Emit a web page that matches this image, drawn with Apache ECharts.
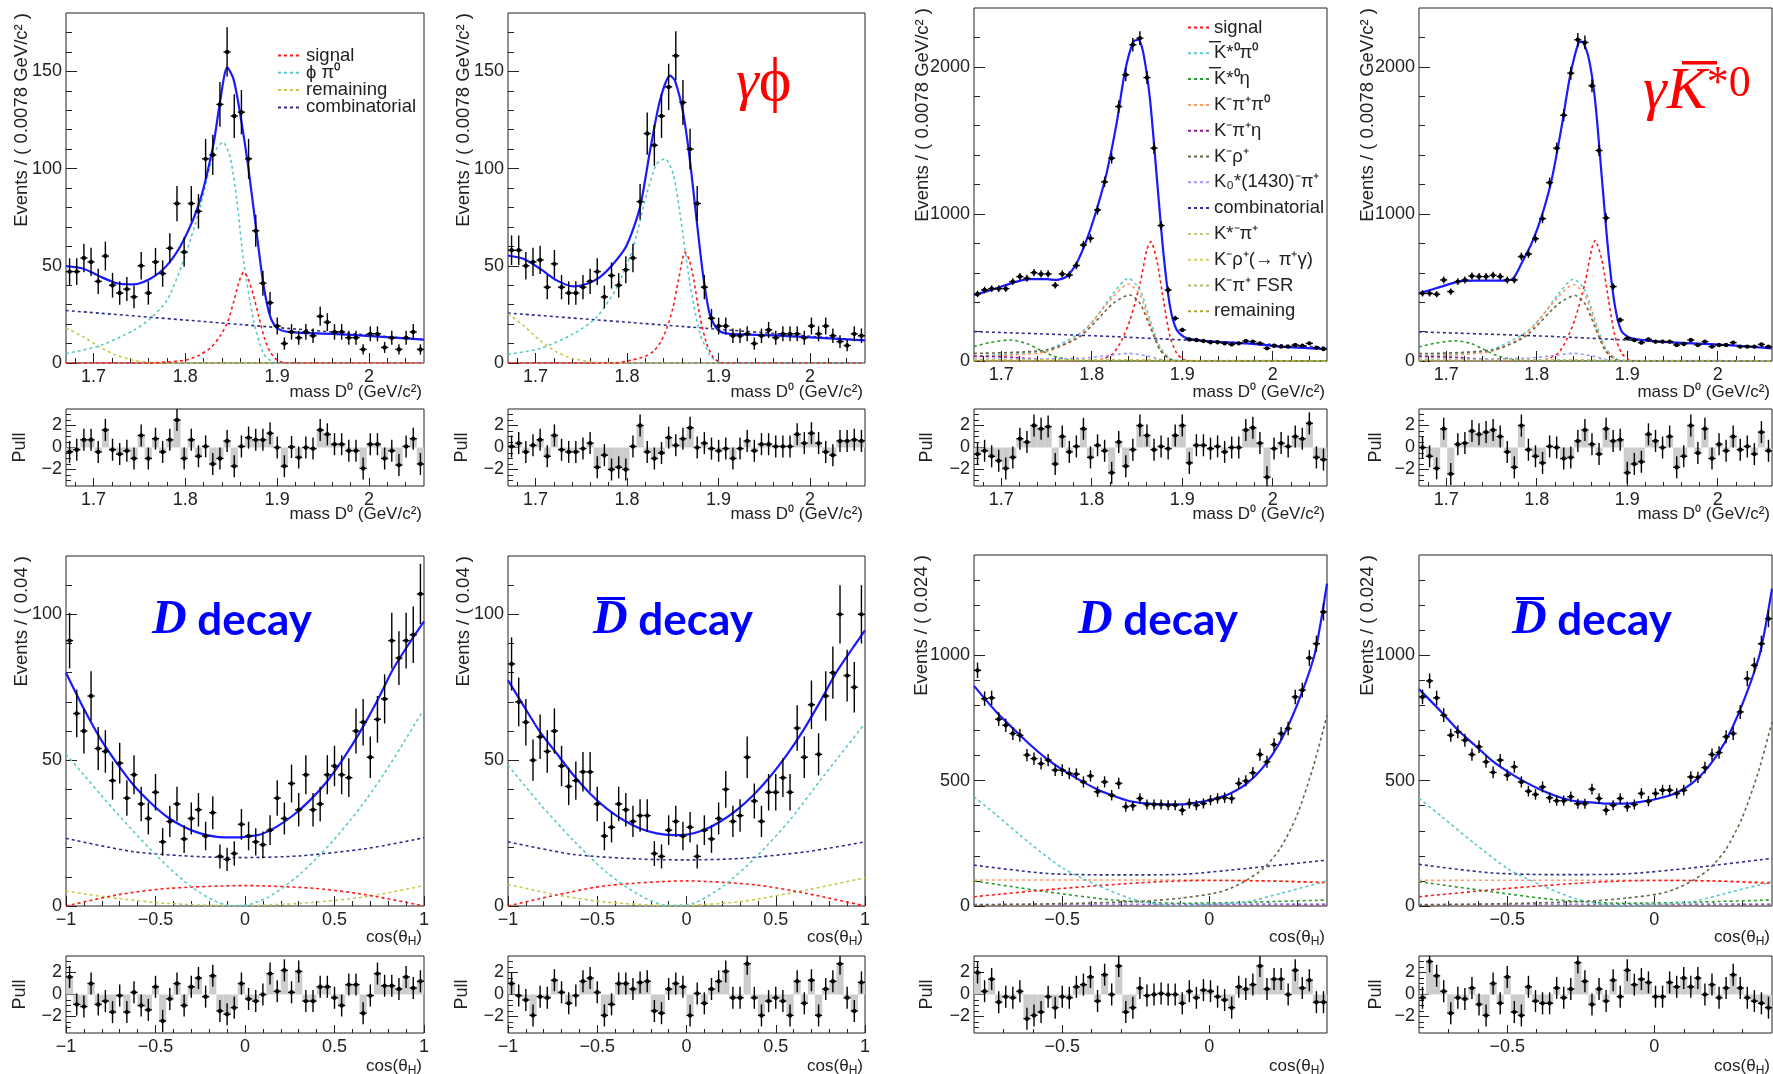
<!DOCTYPE html>
<html><head><meta charset="utf-8">
<script src="https://cdn.jsdelivr.net/npm/echarts@6/dist/echarts.min.js"></script>
<style>html,body{margin:0;padding:0;background:#fff}#c{width:1773px;height:1074px}</style>
</head><body><div id="c"></div>
<script>
// ---------------- DATA ----------------
const massBins = {lo:1.67, w:0.0078};
const cosPhiBins = {lo:-1, w:0.04};
const cosKstBins = {lo:-0.8, w:0.024};

const massTicks = [1.7,1.8,1.9,2.0];
const massMinorTicks = [1.68,1.72,1.74,1.76,1.78,1.82,1.84,1.86,1.88,1.92,1.94,1.96,1.98,2.02,2.04];
const cosPhiTicks = [-1,-0.5,0,0.5,1];
const cosPhiMinorTicks = [-0.9,-0.8,-0.7,-0.6,-0.4,-0.3,-0.2,-0.1,0.1,0.2,0.3,0.4,0.6,0.7,0.8,0.9];
const cosKstTicks = [-0.5,0];
const cosKstMinorTicks = [-0.7,-0.6,-0.4,-0.3,-0.2,-0.1,0.1,0.2,0.3];
const phiMassYTicks = [0,50,100,150];
const phiMassYMinor = [10,20,30,40,60,70,80,90,110,120,130,140,160,170];
const kstMassYTicks = [0,1000,2000];
const kstMassYMinor = [200,400,600,800,1200,1400,1600,1800,2200];
const phiHelYTicks = [0,50,100];
const phiHelYMinor = [10,20,30,40,60,70,80,90,110];
const kstHelYTicks = [0,500,1000];
const kstHelYMinor = [100,200,300,400,600,700,800,900,1100,1200,1300];
const pullYTicks = [-2,0,2];
const pullYMinor = [-3,-2.5,-1.5,-1,-0.5,0.5,1,1.5,2.5,3];

// event counts per bin (50 bins each)
const massPhiA = [47,47,54,52,42,55,40,36,38,34, 50,36,52,46,59,82,57,82,78,105, 107,133,160,127,129,105,68,41,31,19, 10,16,13,16,14,24,21,16,16,13, 13,7,15,15,8,13,7,13,16,7];
const massPhiB = [58,58,50,52,53,39,51,39,36,36, 39,42,47,34,45,40,48,54,83,118, 112,127,142,158,134,110,82,39,23,19, 19,14,14,15,10,14,17,13,15,15, 15,13,19,15,19,14,11,9,15,14];
const massKstA = [456,483,492,492,492,540,574,562,601,592, 592,515,592,585,649,789,834,1027,1218,1379, 1730,1946,2150,2195,1927,1447,921,483,290,211, 147,143,136,127,127,120,113,120,136,132, 120,86,104,98,98,109,104,120,91,82];
const massKstB = [460,460,454,551,472,540,551,578,574,574, 583,574,551,551,710,728,832,968,1213,1447, 1671,1957,2184,2166,1871,1431,973,506,279,154, 143,125,147,132,132,132,109,116,143,109, 132,98,109,109,125,98,98,98,113,98];
const helPhiD = [91,66,60,72,54,53,43,49,37,45, 35,30,39,22,29,35,23,30,33,24, 32,17,16,18,28,24,22,21,26,37, 30,42,33,45,33,35,45,48,45,44, 60,63,51,64,71,91,85,91,93,107];
const helPhiDbar = [83,70,63,50,58,53,60,48,41,43, 46,46,35,24,27,35,33,29,31,31, 18,17,26,29,24,27,17,26,23,30, 40,29,31,51,36,29,39,39,44,39, 61,51,69,52,72,80,100,79,75,100];
const helKstD = [940,827,830,745,721,688,681,602,588,568, 582,542,542,529,526,495,519,456,495,442, 489,396,400,429,405,405,405,402,402,382, 409,402,409,422,429,432,429,489,499,531, 604,575,644,688,708,834,861,989,1046,1173];
const helKstDbar = [834,898,830,761,681,695,661,604,635,575, 533,582,522,555,495,458,445,475,432,420, 420,436,408,408,466,429,382,402,429,396, 405,449,418,449,462,462,449,462,515,513, 552,604,612,675,688,774,907,960,1046,1146];

// pulls per bin
const pullMassPhiA = [-0.4,-0.2,0.7,0.7,-0.4,1.6,-0.2,-0.6,-0.3,-1.0, 1.1,-1.0,0.8,-0.4,0.7,2.5,-1.0,0.7,-0.8,0.1, -1.5,-1.0,0.6,-1.7,0.1,0.9,0.7,0.7,1.3,0.0, -1.7,0.05,-0.9,0.0,-0.1,1.6,1.2,0.3,0.3,-0.3, -0.3,-1.9,0.3,0.3,-1.0,-0.3,-1.6,0.1,0.8,-1.5];
const pullMassPhiB = [0.1,0.4,-0.4,0.2,0.7,-0.8,1.1,-0.2,-0.4,-0.4, -0.1,0.4,-1.8,-0.7,-2.0,-1.8,-2.0,0.1,2.0,-0.4, -1.0,-0.5,0.9,0.2,0.8,1.8,0.0,0.4,-0.1,-0.3, -0.1,-1.0,-0.1,0.6,-0.3,0.3,0.3,0.1,0.1,0.1, 1.2,0.4,1.3,0.4,-0.4,-0.7,0.6,0.6,0.7,0.6];
const pullMassKstA = [-0.6,-0.3,-0.8,-1.2,-1.9,-0.9,0.8,0.5,2.0,1.7, 1.9,-1.5,1.0,-0.4,0.1,1.7,-0.9,0.2,-0.3,-2.3, 0.5,-1.7,-0.2,2.0,1.1,-0.2,0.1,-0.1,1.1,2.0, -1.4,0.2,0.2,-0.1,0.1,-0.4,0.0,0.0,1.6,1.8, 0.4,-2.7,-0.1,0.4,0.1,1.0,0.8,2.2,-0.9,-1.1];
const pullMassKstB = [0.0,-0.8,-1.9,1.7,-2.4,0.3,0.4,1.5,1.2,1.4, 1.6,1.0,-0.4,-1.8,2.0,-0.2,-0.8,-1.4,0.1,0.0, -1.0,-0.9,0.6,1.6,0.3,-0.6,1.7,0.6,0.7,-2.3, -1.5,-1.3,1.2,0.6,0.0,1.0,-1.8,-0.8,2.0,-0.5, 1.7,-1.0,0.3,-0.3,1.0,-0.2,0.1,-0.6,1.4,-0.3];
const pullHelPhiD = [1.6,-0.9,-1.1,1.0,-0.9,-0.6,-1.6,-0.1,-1.6,0.2, -1.0,-1.4,0.7,-2.4,-0.4,1.0,-1.0,0.7,1.5,-0.2, 1.7,-1.5,-1.8,-1.2,1.0,-0.4,-0.6,0.0,1.9,0.3, 2.2,0.2,2.1,-0.6,-0.6,0.7,0.7,-0.3,-1.0,0.9, 0.9,-1.7,-0.1,1.9,0.8,0.8,0.5,1.6,0.6,1.2];
const pullHelPhiDbar = [1.0,-0.1,-0.5,-1.9,-0.2,-0.3,1.3,0.2,-0.8,-0.1, 1.2,1.5,0.2,-1.9,-0.9,1.0,1.0,0.5,1.1,1.2, -1.5,-1.7,0.5,1.0,0.7,-1.9,0.1,-0.8,0.5,1.2, 2.1,-0.3,-0.3,2.8,-0.3,-1.9,-0.6,-0.3,-0.6,-1.9, 1.2,-0.8,1.3,-1.9,0.5,1.2,2.8,-0.3,-1.5,1.1];
const pullHelKstD = [2.0,0.3,1.4,-0.7,-0.2,-0.3,0.3,-2.2,-1.9,-1.6, -0.2,-1.2,-0.2,-0.3,0.7,0.9,1.6,-0.6,1.8,0.0, 2.6,-1.6,-1.2,0.6,-0.1,0.0,0.1,0.0,0.0,-0.8, 0.3,-0.3,0.4,0.3,-0.2,-0.5,-1.2,0.7,0.5,0.9, 2.6,0.5,1.4,1.4,0.0,2.2,0.6,1.3,-0.7,-0.7];
const pullHelKstDbar = [-0.3,3.0,1.7,0.3,-1.7,-0.3,-0.4,0.6,-0.9,-1.9, 1.0,-0.8,1.6,-1.6,-1.9,0.7,-0.6,-0.8,-0.8,0.6, -0.3,0.5,2.9,1.2,-0.9,0.5,-0.6,1.3,-0.2,2.2, 0.9,1.4,1.1,-0.2,-0.2,1.1,0.7,1.5,0.7,1.5, 0.0,0.9,-0.3,0.6,1.8,0.6,-0.3,-0.6,-0.8,-1.2];

// fit curves [x, y]
const fitMassPhiA = [[1.67,49.8],[1.689,48.5],[1.707,44.5],[1.7255,41],[1.7437,40.4],[1.7618,43.3],[1.78,50.2],[1.798,63],[1.816,83.6],[1.8307,112.7],[1.838,135],[1.8456,152],[1.8525,146],[1.8598,128],[1.8688,100],[1.8779,66],[1.8852,40],[1.8924,24],[1.8997,18],[1.9142,15.9],[1.9614,15],[2.06,12]];
const sigMassPhiA = [[1.67,0],[1.76,0],[1.78,0.5],[1.8,1.5],[1.815,4],[1.828,8],[1.838,14],[1.846,21],[1.853,32],[1.858,41],[1.8635,46.7],[1.868,44],[1.874,35],[1.88,24],[1.886,13],[1.892,6],[1.9,1.5],[1.91,0],[2.06,0]];
const phipiMassPhiA = [[1.67,4.8],[1.7074,9],[1.7437,16.8],[1.7618,22.8],[1.78,32.2],[1.798,52.7],[1.8162,80],[1.8307,107.5],[1.8409,113.5],[1.8489,105.8],[1.8561,83.6],[1.8634,52.7],[1.8743,22],[1.8852,4.8],[1.896,0.5],[1.91,0],[2.06,0]];
const remMassPhiA = [[1.67,18],[1.689,13.4],[1.707,8.2],[1.7255,3.9],[1.7437,1.4],[1.7618,0.2],[1.78,0],[2.06,0]];
const combMassPhiA = [[1.67,27],[1.86,19.8],[2.06,12]];

const fitMassPhiB = [[1.67,55.3],[1.6868,53.6],[1.705,48.5],[1.7232,42.5],[1.7414,39.4],[1.756,40.8],[1.7705,44.2],[1.7851,51],[1.7996,60.4],[1.8142,80.1],[1.8251,109],[1.836,135],[1.847,147.8],[1.8524,145.2],[1.8616,128],[1.8688,104],[1.8761,73.3],[1.8834,44.2],[1.8907,24.5],[1.8998,16.8],[1.9125,15],[1.9599,14.2],[2.06,11.6]];
const sigMassPhiB = [[1.67,0],[1.785,0],[1.805,1.5],[1.82,3.5],[1.829,6],[1.837,11],[1.8433,17.6],[1.85,28],[1.856,42],[1.8634,57],[1.868,53],[1.8725,44],[1.8798,23.6],[1.887,10],[1.895,2.5],[1.905,0],[2.06,0]];
const phipiMassPhiB = [[1.67,4.5],[1.705,7.4],[1.7414,15],[1.767,23.6],[1.789,39],[1.8069,59.6],[1.8215,87],[1.8324,102.4],[1.8415,105],[1.8506,97],[1.8579,76.7],[1.8688,40.8],[1.8798,15],[1.8907,4],[1.898,1],[1.91,0],[2.06,0]];
const remMassPhiB = [[1.67,25.3],[1.6868,19.3],[1.705,11.6],[1.7232,5.6],[1.7414,2.2],[1.767,0.3],[1.78,0],[2.06,0]];
const combMassPhiB = [[1.67,25.7],[1.86,18.8],[2.06,11.6]];

const fitMassKstA = [[1.67,449],[1.6947,494],[1.7132,533],[1.7316,556],[1.7501,556],[1.7611,551],[1.7722,574],[1.7833,664],[1.7944,823],[1.8054,1027],[1.8165,1277],[1.8276,1617],[1.8368,1968],[1.8461,2172],[1.8516,2184],[1.8571,2093],[1.8645,1776],[1.8719,1254],[1.8793,732],[1.8866,370],[1.894,211],[1.9051,154],[1.9346,132],[1.9715,120],[2.0084,98],[2.06,82]];
const sigMassKstA = [[1.67,0],[1.79,0],[1.8017,3],[1.8128,15],[1.8239,52],[1.8331,140],[1.8424,279],[1.8535,528],[1.8609,755],[1.8652,812],[1.8719,687],[1.8793,415],[1.8866,166],[1.894,52],[1.9014,11],[1.91,0],[2.06,0]];
const kpi0MassKstA = [[1.67,34],[1.7132,48],[1.7501,75],[1.787,188],[1.8054,302],[1.8239,460],[1.8405,562],[1.8534,483],[1.8645,279],[1.8755,98],[1.8866,18],[1.8977,2],[1.91,0],[2.06,0]];
const ketaMassKstA = [[1.67,98],[1.6873,125],[1.7095,143],[1.7279,120],[1.7427,75],[1.7575,34],[1.7722,11],[1.787,2],[1.8,0],[2.06,0]];
const kpipi0MassKstA = [[1.67,29],[1.7501,63],[1.787,177],[1.8239,438],[1.8405,524],[1.8534,449],[1.8645,256],[1.8755,86],[1.8866,14],[1.8977,0],[2.06,0]];
const kpietaMassKstA = [[1.67,34],[1.7132,25],[1.7501,7],[1.7686,0],[2.06,0]];
const krhoMassKstA = [[1.67,52],[1.7501,75],[1.787,166],[1.8239,392],[1.8424,449],[1.8534,392],[1.8645,234],[1.8755,75],[1.8866,11],[1.8977,0],[2.06,0]];
const k0MassKstA = [[1.67,11],[1.787,18],[1.8239,41],[1.8405,52],[1.8609,34],[1.8793,7],[1.895,0],[2.06,0]];
const combMassKstA = [[1.67,200],[1.8239,166],[2.06,93]];
const kstpiMassKstA = [[1.67,8],[1.8,6],[1.9,3],[2.06,2]];
const krhogMassKstA = [[1.67,5],[1.84,8],[1.9,2],[2.06,1]];
const fsrMassKstA = [[1.67,3],[1.83,5],[1.88,2],[2.06,0]];
const remMassKstA = [[1.67,2],[2.06,1]];

const fitMassKstB = [[1.67,460],[1.6947,506],[1.7132,540],[1.7316,546],[1.7501,546],[1.7649,546],[1.7741,562],[1.7833,664],[1.7944,800],[1.8054,982],[1.8165,1231],[1.8276,1594],[1.8368,1934],[1.8461,2161],[1.8498,2172],[1.8571,2070],[1.8645,1776],[1.8719,1254],[1.8793,732],[1.8866,370],[1.894,200],[1.9051,154],[1.9346,132],[1.9715,120],[2.0084,109],[2.06,86]];
const sigMassKstB = [[1.67,0],[1.79,0],[1.8017,3],[1.8128,15],[1.8239,55],[1.8331,145],[1.8424,285],[1.8535,535],[1.8609,765],[1.8645,819],[1.8719,690],[1.8793,418],[1.8866,168],[1.894,52],[1.9014,11],[1.91,0],[2.06,0]];
const kpi0MassKstB = [[1.67,36],[1.7132,50],[1.7501,78],[1.787,190],[1.8054,300],[1.8239,455],[1.8405,556],[1.8534,480],[1.8645,276],[1.8755,96],[1.8866,18],[1.8977,2],[1.91,0],[2.06,0]];
const ketaMassKstB = [[1.67,95],[1.6873,120],[1.7095,138],[1.7279,118],[1.7427,75],[1.7575,34],[1.7722,11],[1.787,2],[1.8,0],[2.06,0]];
const kpipi0MassKstB = [[1.67,30],[1.7501,65],[1.787,178],[1.8239,435],[1.8405,520],[1.8534,445],[1.8645,252],[1.8755,85],[1.8866,14],[1.8977,0],[2.06,0]];
const kpietaMassKstB = [[1.67,32],[1.7132,24],[1.7501,7],[1.7686,0],[2.06,0]];
const krhoMassKstB = [[1.67,50],[1.7501,74],[1.787,165],[1.8239,388],[1.8424,445],[1.8534,388],[1.8645,230],[1.8755,74],[1.8866,11],[1.8977,0],[2.06,0]];
const k0MassKstB = [[1.67,11],[1.787,18],[1.8239,41],[1.8405,52],[1.8609,34],[1.8793,7],[1.895,0],[2.06,0]];
const combMassKstB = [[1.67,198],[1.8239,165],[2.06,92]];
const kstpiMassKstB = [[1.67,8],[1.8,6],[1.9,3],[2.06,2]];
const krhogMassKstB = [[1.67,5],[1.84,8],[1.9,2],[2.06,1]];
const fsrMassKstB = [[1.67,3],[1.83,5],[1.88,2],[2.06,0]];
const remMassKstB = [[1.67,2],[2.06,1]];

const fitHelPhiD = [[-1,80],[-0.901,67.7],[-0.808,57.4],[-0.715,48.9],[-0.622,41.4],[-0.529,35.5],[-0.436,30.6],[-0.343,27.2],[-0.25,24.9],[-0.157,23.7],[-0.064,23.5],[0.0,23.7],[0.085,24.5],[0.178,27.2],[0.271,31.2],[0.364,36.3],[0.457,42.6],[0.55,50.6],[0.643,59.7],[0.736,70],[0.829,81.4],[0.922,90.5],[1.0,97.6]];
const phipiHelPhiD = [[-1,52],[-0.901,45],[-0.808,38.3],[-0.715,31.8],[-0.622,25.5],[-0.529,19.5],[-0.436,13.8],[-0.343,8.7],[-0.25,4.5],[-0.157,1.4],[-0.064,0],[0.029,0.6],[0.122,2.8],[0.215,6.4],[0.308,11],[0.401,16.4],[0.494,22.5],[0.587,29.3],[0.68,36.8],[0.773,45],[0.866,54],[1,67.5]];
const combHelPhiD = [[-1,23.2],[-0.622,18.6],[-0.25,16.9],[0,16.6],[0.308,17.2],[0.68,19.7],[1,23.4]];
const sigHelPhiD = [[-1,0],[-0.715,3.8],[-0.436,6],[0,7],[0.401,6],[0.68,3.8],[1,0]];
const remHelPhiD = [[-1,5.1],[-0.715,2.6],[-0.436,0.9],[-0.064,0.1],[0.308,0.9],[0.68,3.2],[1,7]];

const fitHelPhiDbar = [[-1,77.4],[-0.914,68.8],[-0.821,59.7],[-0.727,52.3],[-0.634,44.9],[-0.541,38.6],[-0.447,33.4],[-0.354,29.5],[-0.26,26.6],[-0.167,24.9],[-0.074,24.3],[0.001,24.5],[0.094,26],[0.188,28.9],[0.281,32.9],[0.374,38],[0.468,44.3],[0.561,51.7],[0.655,60.3],[0.748,70],[0.841,80.3],[0.935,88.8],[1,94.5]];
const phipiHelPhiDbar = [[-1,48.3],[-0.821,35],[-0.634,22.5],[-0.447,11.5],[-0.26,3.6],[-0.111,0.2],[0.038,0.9],[0.206,6.8],[0.393,17],[0.58,29.5],[0.767,44.5],[1,62.6]];
const combHelPhiDbar = [[-1,22],[-0.634,17.7],[-0.26,16.1],[0.001,15.8],[0.3,16.3],[0.673,18.6],[1,22]];
const sigHelPhiDbar = [[-1,0],[-0.727,3.8],[-0.447,7],[0.001,8.6],[0.393,7.2],[0.673,4.3],[1,0]];
const remHelPhiDbar = [[-1,7.4],[-0.727,3.8],[-0.447,1.3],[-0.074,0.1],[0.3,1.5],[0.673,5.5],[1,9.7]];

const fitHelKstD = [[-0.8,878],[-0.724,774],[-0.667,708],[-0.61,644],[-0.554,588],[-0.497,542],[-0.44,502],[-0.383,466],[-0.327,440],[-0.27,418],[-0.213,409],[-0.156,405],[-0.1,405],[-0.043,413],[0.014,426],[0.071,449],[0.128,489],[0.184,555],[0.241,655],[0.298,801],[0.355,990],[0.377,1120],[0.4,1286]];
const kpi0HelKstD = [[-0.8,436],[-0.724,363],[-0.61,250],[-0.497,150],[-0.383,84],[-0.27,31],[-0.179,7],[-0.1,1],[0.014,7],[0.128,17],[0.241,50],[0.4,100]];
const combHelKstD = [[-0.8,163],[-0.554,130],[-0.327,124],[-0.1,126],[0.128,150],[0.4,183]];
const sigHelKstD = [[-0.8,37],[-0.5,70],[-0.2,95],[0,102],[0.2,100],[0.4,93]];
const kpipi0HelKstD = [[-0.8,104],[-0.4,104],[0,103],[0.2,100],[0.4,95]];
const ketaHelKstD = [[-0.8,100],[-0.554,57],[-0.327,24],[-0.1,11],[0.128,15],[0.4,24]];
const krhoHelKstD = [[-0.8,4],[-0.44,11],[-0.213,20],[-0.1,31],[0.014,50],[0.071,70],[0.128,104],[0.184,150],[0.241,230],[0.298,362],[0.355,562],[0.4,761]];
const k0HelKstD = [[-0.8,7],[0,8],[0.4,9]];
const kpietaHelKstD = [[-0.8,5],[0.4,5]];
const kstpiHelKstD = [[-0.8,3],[0.4,4]];
const remHelKstD = [[-0.8,4],[0.4,6]];

const fitHelKstDbar = [[-0.8,865],[-0.724,774],[-0.667,701],[-0.61,641],[-0.554,582],[-0.497,535],[-0.44,495],[-0.383,462],[-0.327,436],[-0.27,418],[-0.213,413],[-0.156,408],[-0.1,408],[-0.043,416],[0.014,429],[0.071,449],[0.128,489],[0.184,555],[0.241,655],[0.298,801],[0.355,990],[0.377,1110],[0.4,1266]];
const kpi0HelKstDbar = [[-0.8,429],[-0.724,358],[-0.61,248],[-0.497,148],[-0.383,82],[-0.27,30],[-0.179,7],[-0.1,1],[0.014,7],[0.128,17],[0.241,50],[0.4,97]];
const combHelKstDbar = [[-0.8,166],[-0.554,132],[-0.327,125],[-0.1,128],[0.128,152],[0.4,190]];
const sigHelKstDbar = [[-0.8,37],[-0.5,70],[-0.2,95],[0,102],[0.2,100],[0.4,90]];
const kpipi0HelKstDbar = [[-0.8,102],[-0.4,103],[0,103],[0.2,100],[0.4,95]];
const ketaHelKstDbar = [[-0.8,97],[-0.554,57],[-0.327,24],[-0.1,11],[0.128,15],[0.4,24]];
const krhoHelKstDbar = [[-0.8,4],[-0.44,11],[-0.213,20],[-0.1,31],[0.014,48],[0.071,68],[0.128,100],[0.184,145],[0.241,222],[0.298,350],[0.355,540],[0.4,734]];
const k0HelKstDbar = [[-0.8,7],[0,8],[0.4,9]];
const kpietaHelKstDbar = [[-0.8,5],[0.4,5]];
const kstpiHelKstDbar = [[-0.8,3],[0.4,4]];
const remHelKstDbar = [[-0.8,4],[0.4,6]];

const legendPhiNames = ['signal','\u03d5 \u03c0\u2070','remaining','combinatorial'];
const legendKstNames = ['signal','K*\u2070\u03c0\u2070','K*\u2070\u03b7','K\u207b\u03c0\u207a\u03c0\u2070','K\u207b\u03c0\u207a\u03b7','K\u207b\u03c1\u207a','K\u2080*(1430)\u207b\u03c0\u207a','combinatorial ','K*\u207b\u03c0\u207a','K\u207b\u03c1\u207a(\u2192 \u03c0\u207a\u03b3)','K\u207b\u03c0\u207a FSR','remaining '];

// ---------------- STYLE / LAYOUT ----------------
const FONT = '"Liberation Sans", Arial, Helvetica, sans-serif';
const C = {sig:'#ff1a1a', cyan:'#5cc8c8', olive:'#c8c850', navy:'#2e2e8a', green:'#2f9a2f', orange:'#ff9966',
  purple:'#8b1a8b', krho:'#666648', k0:'#9a9aff', kst:'#c8c878', krg:'#d0d060', fsr:'#b8b870', rem:'#a8a830', fit:'#1a1aff'};
const yTitleMass = 'Events / ( 0.0078 GeV/c\u00b2 )';
const xTitleMass = 'mass D\u2070 (GeV/c\u00b2)';

const kstComps = (s) => [
  [s.sig,C.sig],[s.kpi0,C.cyan],[s.keta,C.green],[s.kpipi0,C.orange],[s.kpieta,C.purple],[s.krho,C.krho],
  [s.k0,C.k0],[s.comb,C.navy],[s.kstpi,C.kst],[s.krhog,C.krg],[s.fsr,C.fsr],[s.rem,C.rem]];

const PANELS = [
 {rect:[66,13,358,350], pull:[66,409,358,77], xr:[1.67,2.06], yr:[0,180], xT:massTicks, xMi:massMinorTicks, yT:phiMassYTicks, yMi:phiMassYMinor,
  bins:massBins, data:massPhiA, pulls:pullMassPhiA, fit:fitMassPhiA,
  comps:[[combMassPhiA,C.navy,'combinatorial'],[remMassPhiA,C.olive,'remaining'],[phipiMassPhiA,C.cyan,legendPhiNames[1]],[sigMassPhiA,C.sig,'signal']],
  yTitle:yTitleMass, xTitle:'mass', ytx:22, ptx:20},
 {rect:[508,13,357,350], pull:[508,409,357,77], xr:[1.67,2.06], yr:[0,180], xT:massTicks, xMi:massMinorTicks, yT:phiMassYTicks, yMi:phiMassYMinor,
  bins:massBins, data:massPhiB, pulls:pullMassPhiB, fit:fitMassPhiB,
  comps:[[combMassPhiB,C.navy],[remMassPhiB,C.olive],[phipiMassPhiB,C.cyan],[sigMassPhiB,C.sig]],
  yTitle:yTitleMass, xTitle:'mass', ytx:464, ptx:462},
 {rect:[974,8,353,353], pull:[974,409,353,77], xr:[1.67,2.06], yr:[0,2400], xT:massTicks, xMi:massMinorTicks, yT:kstMassYTicks, yMi:kstMassYMinor,
  bins:massBins, data:massKstA, pulls:pullMassKstA, fit:fitMassKstA,
  comps:kstComps({sig:sigMassKstA,kpi0:kpi0MassKstA,keta:ketaMassKstA,kpipi0:kpipi0MassKstA,kpieta:kpietaMassKstA,krho:krhoMassKstA,k0:k0MassKstA,comb:combMassKstA,kstpi:kstpiMassKstA,krhog:krhogMassKstA,fsr:fsrMassKstA,rem:remMassKstA}).map((c,i)=>[c[0],c[1],legendKstNames[i]]),
  yTitle:yTitleMass, xTitle:'mass', ytx:923, ptx:927},
 {rect:[1419,8,353,353], pull:[1419,409,353,77], xr:[1.67,2.06], yr:[0,2400], xT:massTicks, xMi:massMinorTicks, yT:kstMassYTicks, yMi:kstMassYMinor,
  bins:massBins, data:massKstB, pulls:pullMassKstB, fit:fitMassKstB,
  comps:kstComps({sig:sigMassKstB,kpi0:kpi0MassKstB,keta:ketaMassKstB,kpipi0:kpipi0MassKstB,kpieta:kpietaMassKstB,krho:krhoMassKstB,k0:k0MassKstB,comb:combMassKstB,kstpi:kstpiMassKstB,krhog:krhogMassKstB,fsr:fsrMassKstB,rem:remMassKstB}),
  yTitle:yTitleMass, xTitle:'mass', ytx:1368, ptx:1376},
 {rect:[66,556,358,350], pull:[66,956,358,77], xr:[-1,1], yr:[0,120], xT:cosPhiTicks, xMi:cosPhiMinorTicks, yT:phiHelYTicks, yMi:phiHelYMinor,
  bins:cosPhiBins, data:helPhiD, pulls:pullHelPhiD, fit:fitHelPhiD,
  comps:[[remHelPhiD,C.olive],[sigHelPhiD,C.sig],[combHelPhiD,C.navy],[phipiHelPhiD,C.cyan]],
  yTitle:'Events / ( 0.04 )', xTitle:'cos', ytx:22, ptx:20},
 {rect:[508,556,357,350], pull:[508,956,357,77], xr:[-1,1], yr:[0,120], xT:cosPhiTicks, xMi:cosPhiMinorTicks, yT:phiHelYTicks, yMi:phiHelYMinor,
  bins:cosPhiBins, data:helPhiDbar, pulls:pullHelPhiDbar, fit:fitHelPhiDbar,
  comps:[[remHelPhiDbar,C.olive],[sigHelPhiDbar,C.sig],[combHelPhiDbar,C.navy],[phipiHelPhiDbar,C.cyan]],
  yTitle:'Events / ( 0.04 )', xTitle:'cos', ytx:464, ptx:462},
 {rect:[974,555,353,351], pull:[974,956,353,77], xr:[-0.8,0.4], yr:[0,1400], xT:cosKstTicks, xMi:cosKstMinorTicks, yT:kstHelYTicks, yMi:kstHelYMinor,
  bins:cosKstBins, data:helKstD, pulls:pullHelKstD, fit:fitHelKstD,
  comps:[[remHelKstD,C.rem],[kstpiHelKstD,C.kst],[kpietaHelKstD,C.purple],[k0HelKstD,C.k0],[ketaHelKstD,C.green],[kpipi0HelKstD,C.orange],[sigHelKstD,C.sig],[combHelKstD,C.navy],[kpi0HelKstD,C.cyan],[krhoHelKstD,C.krho]],
  yTitle:'Events / ( 0.024 )', xTitle:'cos', ytx:922, ptx:927},
 {rect:[1419,555,353,351], pull:[1419,956,353,77], xr:[-0.8,0.4], yr:[0,1400], xT:cosKstTicks, xMi:cosKstMinorTicks, yT:kstHelYTicks, yMi:kstHelYMinor,
  bins:cosKstBins, data:helKstDbar, pulls:pullHelKstDbar, fit:fitHelKstDbar,
  comps:[[remHelKstDbar,C.rem],[kstpiHelKstDbar,C.kst],[kpietaHelKstDbar,C.purple],[k0HelKstDbar,C.k0],[ketaHelKstDbar,C.green],[kpipi0HelKstDbar,C.orange],[sigHelKstDbar,C.sig],[combHelKstDbar,C.navy],[kpi0HelKstDbar,C.cyan],[krhoHelKstDbar,C.krho]],
  yTitle:'Events / ( 0.024 )', xTitle:'cos', ytx:1368, ptx:1376}
];

// ---------------- BUILD ----------------
const grids=[], xAxis=[], yAxis=[], series=[], graphic=[];
const fmt = v => String(Math.round(v*1000)/1000).replace('-', '\u2212');
const base = {type:'value', axisLine:{show:false,onZero:false}, splitLine:{show:false}, minorTick:{show:false}, minorSplitLine:{show:false}};

function addFrame(rect, xr, yr, xT, xMi, yT, yMi, tk){
  const gi = grids.length;
  grids.push({left:rect[0], top:rect[1], width:rect[2], height:rect[3], show:true, borderColor:'#222', borderWidth:1,
    backgroundColor:'rgba(0,0,0,0)', containLabel:false, outerBoundsMode:'none'});
  const tl = {color:'#222', width:1};
  const lab = {fontFamily:FONT, fontSize:18, color:'#222', formatter:fmt};
  xAxis.push(Object.assign({}, base, {gridIndex:gi, min:xr[0], max:xr[1], position:'bottom',
    axisTick:{show:true, inside:true, length:tk[0], customValues:xT, lineStyle:tl},
    axisLabel:Object.assign({show:true, customValues:xT, margin:5}, lab)}));
  xAxis.push(Object.assign({}, base, {gridIndex:gi, min:xr[0], max:xr[1], position:'bottom',
    axisTick:{show:true, inside:true, length:tk[1], customValues:xMi, lineStyle:tl}, axisLabel:{show:false}}));
  yAxis.push(Object.assign({}, base, {gridIndex:gi, min:yr[0], max:yr[1], position:'left',
    axisTick:{show:true, inside:true, length:tk[2], customValues:yT, lineStyle:tl},
    axisLabel:Object.assign({show:true, customValues:yT, margin:4}, lab)}));
  yAxis.push(Object.assign({}, base, {gridIndex:gi, min:yr[0], max:yr[1], position:'left',
    axisTick:{show:true, inside:true, length:tk[3], customValues:yMi, lineStyle:tl}, axisLabel:{show:false}}));
  return 2*gi;
}

function pointsSeries(ai, pts, hw){
  return {type:'custom', xAxisIndex:ai, yAxisIndex:ai, data:pts, z:5, silent:true, animation:false, encode:{x:0,y:1},
    renderItem(params, api){
      const x=api.value(0), y=api.value(1), e=api.value(2);
      const cs=params.coordSys, top=cs.y, bot=cs.y+cs.height;
      const cl=v=>Math.max(top,Math.min(bot,v));
      const c=api.coord([x,y]), a=api.coord([x,y+e]), b=api.coord([x,y-e]);
      const l=api.coord([x-hw,y]), r=api.coord([x+hw,y]);
      const st={stroke:'#000', lineWidth:1.4};
      const ch=[{type:'line', shape:{x1:c[0],y1:cl(a[1]),x2:c[0],y2:cl(b[1])}, style:st}];
      if(c[1]>=top && c[1]<=bot){
        ch.push({type:'line', shape:{x1:l[0],y1:c[1],x2:r[0],y2:c[1]}, style:st});
        ch.push({type:'circle', shape:{cx:c[0],cy:c[1],r:2.2}, style:{fill:'#000'}});
      }
      return {type:'group', children:ch};
    }};
}
function pullBarSeries(ai, pts, hw){
  return {type:'custom', xAxisIndex:ai, yAxisIndex:ai, data:pts, z:3, silent:true, animation:false, encode:{x:0,y:1},
    renderItem(params, api){
      const x=api.value(0), v=api.value(1);
      const cs=params.coordSys, top=cs.y, bot=cs.y+cs.height;
      const cl=q=>Math.max(top,Math.min(bot,q));
      const p0=api.coord([x-hw,0]), p1=api.coord([x+hw,v]);
      const y0=cl(Math.min(p0[1],p1[1])), y1=cl(Math.max(p0[1],p1[1]));
      return {type:'rect', shape:{x:p0[0], y:y0, width:p1[0]-p0[0], height:y1-y0}, style:{fill:'#cccccc'}};
    }};
}
function curveSeries(ai, pts, color, width, dashed, name, z){
  return {type:'line', name:name, xAxisIndex:ai, yAxisIndex:ai, data:pts, symbol:'none', showSymbol:false,
    smooth:0.25, silent:true, animation:false, z:z, clip:true,
    lineStyle:{color:color, width:width, type: dashed?[3,3]:'solid'}, itemStyle:{color:color}};
}

PANELS.forEach((p, k) => {
  const ai = addFrame(p.rect, p.xr, p.yr, p.xT, p.xMi, p.yT, p.yMi, [10,5,11,6]);
  const hw = p.bins.w/2;
  p.comps.forEach((c, j) => series.push(curveSeries(ai, c[0], c[1], 1.6, true, c[2] || ('_c'+k+'_'+j), 2)));
  series.push(curveSeries(ai, p.fit, C.fit, 2.2, false, '_fit'+k, 4));
  series.push(pointsSeries(ai, p.data.map((v,i)=>[p.bins.lo+(i+0.5)*p.bins.w, v, Math.sqrt(v)]), hw));

  const pi = addFrame(p.pull, p.xr, [-3.5,3.5], p.xT, p.xMi, pullYTicks, pullYMinor, [8,4,10,5]);
  const pp = p.pulls.map((v,i)=>[p.bins.lo+(i+0.5)*p.bins.w, v, 1]);
  series.push(pullBarSeries(pi, pp, hw));
  series.push(pointsSeries(pi, pp, hw));

  // axis titles
  graphic.push({type:'text', x:p.ytx, y:p.rect[1], rotation:Math.PI/2, silent:true,
    style:{text:p.yTitle, align:'right', verticalAlign:'middle', fontSize:18.5, fontFamily:FONT, fill:'#222'}});
  graphic.push({type:'text', x:p.ptx, y:p.pull[1]+p.pull[3]/2, rotation:Math.PI/2, silent:true,
    style:{text:'Pull', align:'center', verticalAlign:'middle', fontSize:18, fontFamily:FONT, fill:'#222'}});
  const right = p.rect[0]+p.rect[2]-2;
  const mainTy = p.xTitle==='mass' ? 392 : 937;
  const pullTy = p.xTitle==='mass' ? 514 : 1066;
  [mainTy, pullTy].forEach(ty => {
    if (p.xTitle==='mass') {
      graphic.push({type:'text', x:right, y:ty, silent:true, style:{text:xTitleMass, align:'right', verticalAlign:'middle', fontSize:17, fontFamily:FONT, fill:'#222'}});
    } else {
      graphic.push({type:'text', x:right, y:ty, silent:true, style:{text:'{a|cos(\u03b8}{b|H}{a|)}', align:'right', verticalAlign:'middle', fill:'#222',
        rich:{a:{fontSize:17, fontFamily:FONT, fill:'#222'}, b:{fontSize:12, fontFamily:FONT, fill:'#222', padding:[9,0,0,0]}}}});
    }
  });
});

// overbars for K-bar in the legend
graphic.push({type:'rect', silent:true, shape:{x:1209, y:41, width:12, height:1.4}, style:{fill:'#222'}});
graphic.push({type:'rect', silent:true, shape:{x:1209, y:67, width:12, height:1.4}, style:{fill:'#222'}});

// annotations
const serif = '"Liberation Serif","DejaVu Serif",serif';
graphic.push({type:'text', x:736, y:84, silent:true, style:{text:'{g|\u03b3}{p|\u03d5}', align:'left', verticalAlign:'middle',
  rich:{g:{fontSize:58, fontFamily:serif, fontStyle:'italic', fill:'#ff0000'}, p:{fontSize:62, fontFamily:serif, fill:'#ff0000'}}}});
graphic.push({type:'text', x:1643, y:92, silent:true, style:{text:'{g|\u03b3}{k|K}{s|*0}', align:'left', verticalAlign:'middle',
  rich:{g:{fontSize:60, fontFamily:serif, fontStyle:'italic', fill:'#ff0000'}, k:{fontSize:60, fontFamily:serif, fontStyle:'italic', fill:'#ff0000'},
        s:{fontSize:44, fontFamily:serif, fill:'#ff0000', verticalAlign:'top'}}}});
graphic.push({type:'rect', silent:true, shape:{x:1682, y:61, width:35, height:3.5}, style:{fill:'#ff0000'}});
const decayPos = [[152,621,false],[593,621,true],[1078,621,false],[1512,621,true]];
decayPos.forEach(d => {
  graphic.push({type:'text', x:d[0], y:d[1], silent:true, style:{text:'{d|D}{t| decay}', align:'left', verticalAlign:'middle',
    rich:{d:{fontSize:48, fontFamily:serif, fontStyle:'italic', fontWeight:'bold', fill:'#0000ff'},
          t:{fontSize:44, fontFamily:'Lato, "Open Sans", sans-serif', fontWeight:'bold', fill:'#0000ff'}}}});
  if (d[2]) graphic.push({type:'rect', silent:true, shape:{x:d[0]+4, y:597, width:28, height:3}, style:{fill:'#0000ff'}});
});

const chart = echarts.init(document.getElementById('c'), null, {renderer:'canvas', width:1773, height:1074});
chart.setOption({
  animation:false, backgroundColor:'#ffffff',
  grid:grids, xAxis:xAxis, yAxis:yAxis, series:series, graphic:graphic,
  legend:[
    {show:true, selectedMode:false, orient:'vertical', left:272, top:41, itemWidth:23, itemHeight:10, itemGap:-1.7,
     itemStyle:{opacity:0}, data:legendPhiNames, textStyle:{fontFamily:FONT, fontSize:18.5, color:'#222', lineHeight:17}},
    {show:true, selectedMode:false, orient:'vertical', left:1182, top:13, itemWidth:21, itemHeight:10, itemGap:6.8,
     itemStyle:{opacity:0}, data:legendKstNames, textStyle:{fontFamily:FONT, fontSize:18.5, color:'#222', lineHeight:18}}
  ]
});
</script></body></html>
